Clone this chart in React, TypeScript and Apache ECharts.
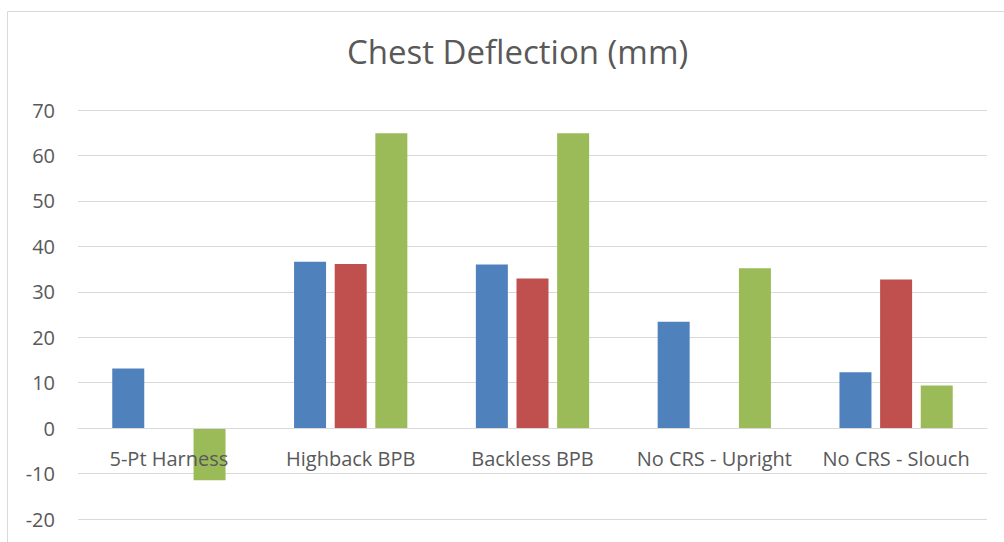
import React, { useEffect, useRef } from "react";
import * as echarts from "echarts";

const categories = ["5-Pt Harness", "Highback BPB", "Backless BPB", "No CRS - Upright", "No CRS - Slouch"];
const seriesBlue = [13.1, 36.6, 36.0, 23.4, 12.3];
const seriesRed: (number | null)[] = [null, 36.1, 32.9, null, 32.7];
const seriesGreen = [-11.5, 64.9, 64.9, 35.2, 9.4];
const seriesNames = ["Series 1", "Series 2", "Series 3"];
const colors = ["#4F81BD", "#C0504D", "#9BBB59"];

const FONT = "Open Sans";

export default function App() {
  const ref = useRef<HTMLDivElement>(null);
  useEffect(() => {
    if (!ref.current) return;
    const chart = echarts.init(ref.current, undefined, { renderer: "svg" });
    const mk = (name: string, data: (number | null)[], color: string) => ({
      name,
      type: "bar",
      data,
      barWidth: 32,
      barGap: "27%",
      itemStyle: { color },
    });
    chart.setOption({
      animation: false,
      backgroundColor: "#ffffff",
      title: {
        text: "Chest Deflection (mm)",
        left: 342,
        top: 30,
        textStyle: { fontFamily: FONT, fontSize: 33, fontWeight: "normal", color: "#595959" },
      },
      grid: { left: 78, right: 17, top: 110, bottom: 23, containLabel: false, outerBoundsMode: "none" },
      xAxis: {
        type: "category",
        data: categories,
        offset: -91,
        z: 5,
        axisLine: { onZero: false, lineStyle: { color: "#d9d9d9", width: 1 } },
        axisTick: { show: false },
        axisLabel: { fontFamily: FONT, fontSize: 20, color: "#595959", margin: 20, interval: 0 },
      },
      yAxis: {
        type: "value",
        min: -20,
        max: 70,
        interval: 10,
        axisLine: { show: false },
        axisTick: { show: false },
        splitLine: { lineStyle: { color: "#d9d9d9", width: 1 } },
        axisLabel: { fontFamily: FONT, fontSize: 20, color: "#595959", margin: 23 },
      },
      graphic: [
        {
          type: "rect",
          shape: { x: 7.5, y: 11.5, width: 1010, height: 560 },
          style: { fill: "none", stroke: "#d9d9d9", lineWidth: 1 },
          silent: true,
        },
      ],
      series: [
        mk(seriesNames[0], seriesBlue, colors[0]),
        mk(seriesNames[1], seriesRed, colors[1]),
        mk(seriesNames[2], seriesGreen, colors[2]),
      ],
    });
    return () => chart.dispose();
  }, []);
  return <div ref={ref} style={{ position: "absolute", left: 0, top: 0, width: 1004, height: 542 }} />;
}
